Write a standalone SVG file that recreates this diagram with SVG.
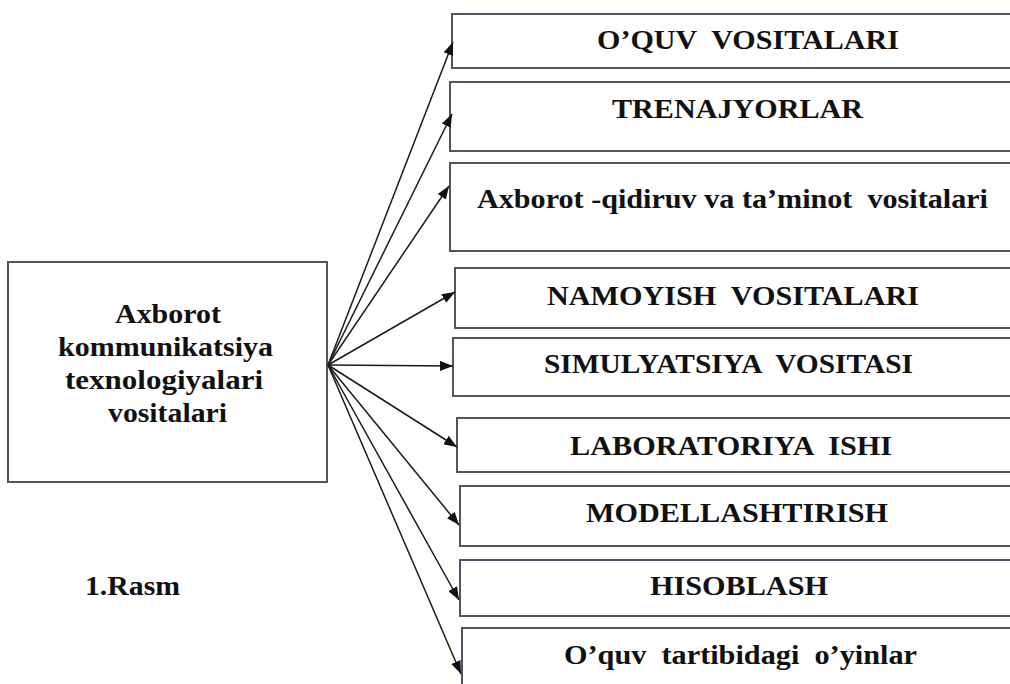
<svg xmlns="http://www.w3.org/2000/svg" width="1010" height="684" viewBox="0 0 1010 684">
<style>
.box{fill:#ffffff;stroke:#4d5763;stroke-width:2}
text{font-family:'Liberation Serif', 'Times New Roman', Times, serif;font-weight:700;fill:#111}
.c{stroke:#1a1a1a;stroke-width:1.5;fill:none;marker-end:url(#ah)}
</style>
<defs>
<marker id="ah" markerUnits="userSpaceOnUse" markerWidth="14" markerHeight="10" refX="13" refY="5" orient="auto">
<path d="M0,0 L13,5 L0,10 Z" fill="#111"/>
</marker>
</defs>
<rect width="1010" height="684" fill="#ffffff"/>
<g id="n0">
<rect class="box" x="8" y="262" width="319" height="220"/>
<text font-size="27" x="115" y="323" textLength="106" lengthAdjust="spacingAndGlyphs">Axborot</text>
<text font-size="27" x="58" y="356" textLength="215" lengthAdjust="spacingAndGlyphs">kommunikatsiya</text>
<text font-size="27" x="65" y="389" textLength="198" lengthAdjust="spacingAndGlyphs">texnologiyalari</text>
<text font-size="27" x="108" y="422" textLength="119" lengthAdjust="spacingAndGlyphs">vositalari</text>
</g>
<g id="n1">
<rect class="box" x="452" y="14" width="570" height="54"/>
<text font-size="27" xml:space="preserve" x="597" y="49" textLength="302" lengthAdjust="spacingAndGlyphs">O’QUV  VOSITALARI</text>
</g>
<g id="n2">
<rect class="box" x="450" y="82" width="570" height="69"/>
<text font-size="27" x="612" y="118" textLength="251" lengthAdjust="spacingAndGlyphs">TRENAJYORLAR</text>
</g>
<g id="n3">
<rect class="box" x="450" y="163" width="570" height="88"/>
<text font-size="27" xml:space="preserve" x="477" y="208" textLength="511" lengthAdjust="spacingAndGlyphs">Axborot -qidiruv va ta’minot  vositalari</text>
</g>
<g id="n4">
<rect class="box" x="455" y="268" width="570" height="60"/>
<text font-size="27" xml:space="preserve" x="547" y="305" textLength="372" lengthAdjust="spacingAndGlyphs">NAMOYISH  VOSITALARI</text>
</g>
<g id="n5">
<rect class="box" x="453" y="338" width="570" height="58"/>
<text font-size="27" xml:space="preserve" x="544" y="373" textLength="369" lengthAdjust="spacingAndGlyphs">SIMULYATSIYA  VOSITASI</text>
</g>
<g id="n6">
<rect class="box" x="457" y="418" width="570" height="54"/>
<text font-size="27" xml:space="preserve" x="570" y="455" textLength="322" lengthAdjust="spacingAndGlyphs">LABORATORIYA  ISHI</text>
</g>
<g id="n7">
<rect class="box" x="460" y="486" width="570" height="60"/>
<text font-size="27" x="586" y="522" textLength="302" lengthAdjust="spacingAndGlyphs">MODELLASHTIRISH</text>
</g>
<g id="n8">
<rect class="box" x="460" y="560" width="570" height="56"/>
<text font-size="27" x="650" y="595" textLength="178" lengthAdjust="spacingAndGlyphs">HISOBLASH</text>
</g>
<g id="n9">
<rect class="box" x="462" y="628" width="570" height="70"/>
<text font-size="27" xml:space="preserve" x="564" y="664" textLength="353" lengthAdjust="spacingAndGlyphs">O’quv  tartibidagi  o’yinlar</text>
</g>
<g id="caption">
<text font-size="27" x="85" y="595" textLength="95" lengthAdjust="spacingAndGlyphs">1.Rasm</text>
</g>
<g id="connectors">
<line class="c" x1="328" y1="365" x2="453" y2="42"/>
<line class="c" x1="328" y1="365" x2="452" y2="114"/>
<line class="c" x1="328" y1="365" x2="449" y2="186"/>
<line class="c" x1="328" y1="365" x2="455" y2="292"/>
<line class="c" x1="328" y1="365" x2="453" y2="366"/>
<line class="c" x1="328" y1="365" x2="457" y2="447"/>
<line class="c" x1="328" y1="365" x2="459" y2="525"/>
<line class="c" x1="328" y1="365" x2="459" y2="600"/>
<line class="c" x1="328" y1="365" x2="461" y2="674"/>
</g>
</svg>
